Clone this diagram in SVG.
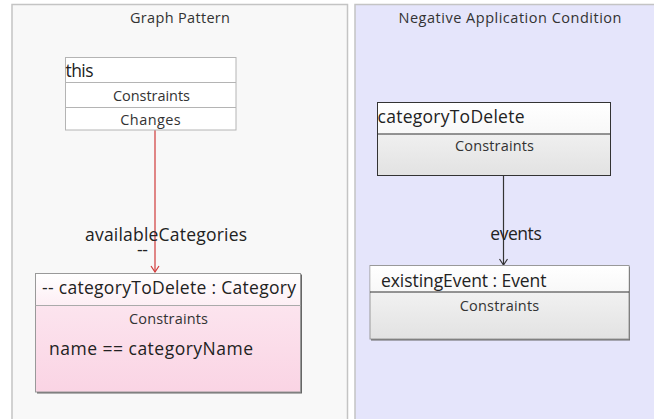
<svg xmlns="http://www.w3.org/2000/svg" width="654" height="419" viewBox="0 0 654 419">
<defs>
<style>
text{font-family:"Open Sans","Noto Sans","Liberation Sans",sans-serif;fill:#222}
.title{font-size:14.5px;text-anchor:middle;fill:#333}
.hdr{font-size:17.5px}
.sec{font-size:14.5px;text-anchor:middle;fill:#333}
.lbl{font-size:17.5px;text-anchor:middle}
.light{fill:#fff;stroke:#b4b4b4;stroke-width:1}
</style>
<linearGradient id="gGray" x1="0" y1="0" x2="0" y2="1">
<stop offset="0" stop-color="#fafafa"/>
<stop offset="1" stop-color="#e2e2e2"/>
</linearGradient>
<linearGradient id="gHead" x1="0" y1="0" x2="0" y2="1">
<stop offset="0" stop-color="#ffffff"/>
<stop offset="1" stop-color="#f8f8f8"/>
</linearGradient>
<linearGradient id="gPinkH" x1="0" y1="0" x2="0" y2="1">
<stop offset="0" stop-color="#ffffff"/>
<stop offset="1" stop-color="#fdeef4"/>
</linearGradient>
<linearGradient id="gPink" x1="0" y1="0" x2="0" y2="1">
<stop offset="0" stop-color="#fdeaf2"/>
<stop offset="1" stop-color="#fad4e4"/>
</linearGradient>
<marker id="arrRed" markerWidth="10" markerHeight="10" refX="5" refY="9" markerUnits="userSpaceOnUse" viewBox="0 0 10 10">
<path d="M1,3 L5,9 L9,3" fill="none" stroke="#d03a3a" stroke-width="1.2"/>
</marker>
<marker id="arrDark" markerWidth="10" markerHeight="10" refX="5" refY="9" markerUnits="userSpaceOnUse" viewBox="0 0 10 10">
<path d="M1,3 L5,9 L9,3" fill="none" stroke="#333" stroke-width="1.2"/>
</marker>
</defs>
<rect width="654" height="419" fill="#ffffff"/>
<g id="panel-graph-pattern">
<rect x="12" y="4.5" width="335.5" height="420" fill="#f8f8f8" stroke="#c4c4c4" stroke-width="1.5"/>
<text class="title" x="180" y="23" textLength="100">Graph Pattern</text>
</g>
<g id="panel-nac">
<rect x="355" y="4.5" width="305" height="420" fill="#e5e5fb" stroke="#c4c4c4" stroke-width="1.5"/>
<text class="title" x="510" y="23" textLength="223">Negative Application Condition</text>
</g>
<g id="connectors">
<line x1="155" y1="130" x2="155" y2="272" stroke="#d03a3a" stroke-width="1.2" marker-end="url(#arrRed)"/>
<text class="lbl" x="166" y="241" textLength="162">availableCategories</text>
<text class="lbl" x="142.5" y="255.5" textLength="11">--</text>
<line x1="503.5" y1="176" x2="503.5" y2="265" stroke="#333" stroke-width="1.2" marker-end="url(#arrDark)"/>
<text class="lbl" x="516" y="240" textLength="51.5">events</text>
</g>
<g id="node-this">
<rect class="light" x="65.5" y="57.5" width="170.5" height="72.5"/>
<line x1="65.5" y1="82.5" x2="236" y2="82.5" stroke="#b4b4b4"/>
<line x1="65.5" y1="107.5" x2="236" y2="107.5" stroke="#b4b4b4"/>
<text class="hdr" x="65.5" y="77" textLength="28">this</text>
<text class="sec" x="151.5" y="101" textLength="77">Constraints</text>
<text class="sec" x="150.5" y="125" textLength="60.5">Changes</text>
</g>
<g id="node-categoryToDelete-gp">
<rect x="37" y="274.5" width="265" height="119" fill="#666"/>
<rect x="35.5" y="273.5" width="265" height="118.5" fill="url(#gPink)" stroke="#999" stroke-width="1"/>
<rect x="36" y="274" width="264" height="31.5" fill="url(#gPinkH)"/>
<line x1="35.5" y1="305.5" x2="300.5" y2="305.5" stroke="#aaa"/>
<text class="hdr" x="42" y="294" textLength="254">-- categoryToDelete : Category</text>
<text class="sec" x="168.5" y="324" textLength="79">Constraints</text>
<text class="hdr" x="49" y="355" textLength="204">name ==  categoryName</text>
</g>
<g id="node-categoryToDelete-nac">
<rect x="377.5" y="102.5" width="233" height="73" fill="url(#gGray)" stroke="#333"/>
<rect x="378" y="103" width="232" height="30.5" fill="url(#gHead)"/>
<line x1="377.5" y1="134" x2="610.5" y2="134" stroke="#333"/>
<text class="hdr" x="377.5" y="123" textLength="147">categoryToDelete</text>
<text class="sec" x="494.5" y="151" textLength="79">Constraints</text>
</g>
<g id="node-existingEvent">
<rect x="371" y="266.5" width="259" height="74" fill="#666"/>
<rect x="370" y="265.5" width="259" height="73.5" fill="url(#gGray)" stroke="#999"/>
<rect x="370.5" y="266" width="258" height="25.5" fill="url(#gHead)"/>
<line x1="370" y1="292" x2="629" y2="292" stroke="#333"/>
<text class="hdr" x="381" y="287" textLength="165.5">existingEvent : Event</text>
<text class="sec" x="499.5" y="311" textLength="79.5">Constraints</text>
</g>
</svg>
